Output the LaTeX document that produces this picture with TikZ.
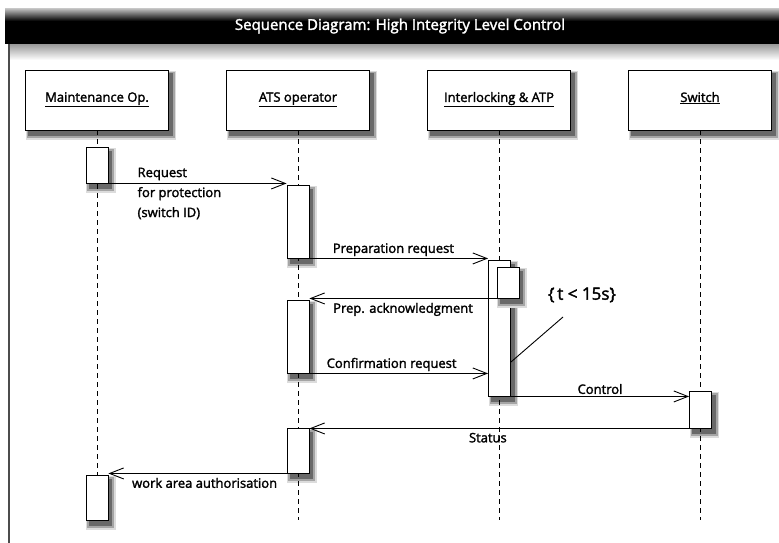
\documentclass[tikz,border=0pt]{standalone}
\usepackage{fontspec}
\setmainfont{Open Sans}[FakeBold=2]
\usepackage{tikz}
\usetikzlibrary{positioning}
\usetikzlibrary{arrows.meta}

\definecolor{shadowdark}{RGB}{105,105,105}
\definecolor{shadowmid}{RGB}{165,165,165}
\definecolor{shadowlight}{RGB}{220,220,220}

% soft shadow under a box given by its corners (x1,y1) (x2,y2)
\newcommand{\boxshadow}[4]{%
    \fill[shadowlight] (#1,#2+1) rectangle (#3+7.5,#4+10);
    \fill[shadowmid] (#1+1,#2+2) rectangle (#3+6,#4+7.5);
    \fill[shadowdark] (#1+2.5,#2+3.5) rectangle (#3+4,#4+5.5);
}

\tikzset{
    lifebox/.style={draw, line width=0.9pt, fill=white, minimum width=143pt, minimum height=60pt, align=center, font=\fontsize{13}{15}\selectfont},
    actbox/.style={draw, line width=0.9pt, fill=white, minimum width=22pt, inner sep=0pt},
    lifeline/.style={line width=0.9pt, dash pattern=on 5pt off 4pt},
    msg/.style={-{Straight Barb[length=14pt, width=11pt]}, line width=0.9pt},
    msglabel/.style={font=\fontsize{13}{20}\selectfont, inner sep=2pt}
}

\begin{document}
\begin{tikzpicture}[x=1pt, y=-1pt, node distance=201pt, auto]
    \useasboundingbox (0,0) rectangle (779,543);
    % frame and title bar
    \shade[top color=gray!55, bottom color=black] (5,9) rectangle (779,21);
    \fill[black] (5,21) rectangle (779,44);
    \shade[top color=gray!75, bottom color=white] (9,45) rectangle (779,60);
    \draw[gray!60!black, line width=1.6pt] (9,44) -- (9,543);
    \node[text=white, font=\fontsize{15}{17}\selectfont] (title) at (400,26) {Sequence Diagram: High Integrity Level Control};

    % shadows
    \boxshadow{25.5}{70}{168.5}{130}
    \boxshadow{226.5}{70}{369.5}{130}
    \boxshadow{427.5}{70}{570.5}{130}
    \boxshadow{628.5}{70}{771.5}{130}
    \boxshadow{86}{147}{108}{183}
    \boxshadow{287}{185}{309}{258}
    \boxshadow{488.5}{260}{510.5}{396}
    \boxshadow{287}{300}{309}{373}
    \boxshadow{689.5}{391}{711.5}{428}
    \boxshadow{287}{428}{309}{473}
    \boxshadow{86}{475}{108}{520}

    % lifeline heads
    \node[lifebox] (maintenance) at (97,100) {\raisebox{6pt}{\underline{Maintenance Op.}}};
    \node[lifebox] (ats) [right of=maintenance] {\raisebox{6pt}{\underline{ATS operator}}};
    \node[lifebox] (interlocking) [right of=ats] {\raisebox{6pt}{\underline{Interlocking \& ATP}}};
    \node[lifebox] (switch) [right of=interlocking] {\raisebox{6pt}{\underline{Switch}}};

    \coordinate (lifeline_end) at (0,520);
    \foreach \n in {maintenance, ats, interlocking, switch}
        \draw[lifeline] (\n.south) -- (\n.south |- lifeline_end);

    % activations
    \node[actbox, minimum height=36pt] (act_maint1) at (97,165) {};
    \node[actbox, minimum height=73pt] (act_ats1) at (298,221.5) {};
    \node[actbox, minimum height=136pt] (act_ilk1) at (499.5,328) {};
    \boxshadow{497}{267}{519}{298}
    \node[actbox, minimum height=31pt] (act_ilk2) at (508,282.5) {};
    \node[actbox, minimum height=73pt] (act_ats2) at (298,336.5) {};
    \node[actbox, minimum height=37pt] (act_switch1) at (700.5,409.5) {};
    \node[actbox, minimum height=45pt] (act_ats3) at (298,450.5) {};
    \node[actbox, minimum height=45pt] (act_maint2) at (97,497.5) {};

    % messages
    \draw[msg] (act_maint1.south east) -- (act_maint1.south east -| act_ats1.west)
        node[msglabel, pos=0.15, anchor=west, align=left, yshift=-10pt] {Request\\for protection\\(switch ID)};
    \draw[msg] (act_ats1.south east) -- (act_ats1.south east -| act_ilk1.west)
        node[msglabel, pos=0.47, above] {Preparation request};
    \draw[msg] (act_ilk2.south west) -- (act_ilk2.south west -| act_ats2.east)
        node[msglabel, midway, below, yshift=-2pt] {Prep. acknowledgment};
    \draw[msg] (act_ats2.south east) -- (act_ats2.south east -| act_ilk1.west)
        node[msglabel, pos=0.46, above] {Confirmation request};
    \draw[msg] (act_ilk1.south east) -- (act_ilk1.south east -| act_switch1.west)
        node[msglabel, midway, above] {Control};
    \draw[msg] (act_switch1.south west) -- (act_switch1.south west -| act_ats3.east)
        node[msglabel, pos=0.53, below, yshift=-2pt] {Status};
    \draw[msg] (act_ats3.south west) -- (act_ats3.south west -| act_maint2.east)
        node[msglabel, pos=0.46, below, yshift=-2pt] {work area authorisation};

    % timing constraint
    \node[font=\fontsize{17}{19}\selectfont] (constraint) at (582,295) {\{\,t < 15s\}};
    \coordinate (constraint_end) at ([xshift=-19pt, yshift=-22pt]constraint.center);
    \draw[line width=0.9pt] ([yshift=-34pt]act_ilk1.east) -- (constraint_end);
\end{tikzpicture}
\end{document}
